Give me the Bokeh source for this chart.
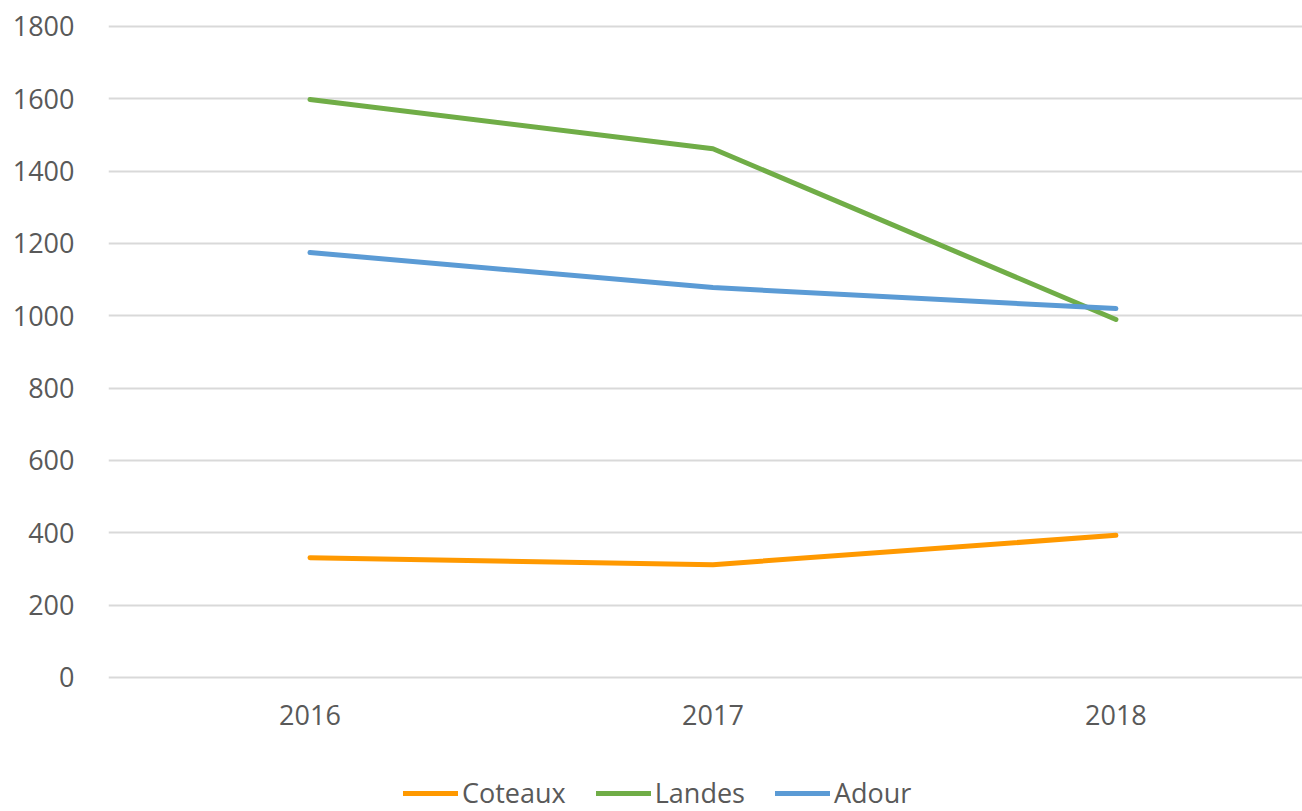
from bokeh.plotting import figure
from bokeh.models import Range1d, FixedTicker, Legend, LegendItem
from bokeh.embed import file_html
from bokeh.resources import INLINE

years = [2016, 2017, 2018]
coteaux = [331, 312, 393]
landes = [1598, 1462, 990]
adour = [1175, 1078, 1020]
series_names = ["Coteaux", "Landes", "Adour"]
series_values = [coteaux, landes, adour]
colors = ["#FF9900", "#70AD47", "#5B9BD5"]
y_ticks = [0, 200, 400, 600, 800, 1000, 1200, 1400, 1600, 1800]

FONT = "Open Sans"
TXT = "#595959"

# frame reaches the bottom of the page so that the legend can sit under the axis
p = figure(frame_width=1194, frame_height=789, output_backend="svg", toolbar_location=None,
           x_range=Range1d(2015.5, 2018.463), y_range=Range1d(-370.5, 1811),
           min_border_left=108, min_border_right=0, min_border_top=22, min_border_bottom=0)
p.outline_line_color = None

p.xaxis.ticker = FixedTicker(ticks=years)
p.xaxis.fixed_location = 0
p.yaxis.ticker = FixedTicker(ticks=y_ticks)
for ax in (p.xaxis, p.yaxis):
    ax.axis_line_color = None
    ax.major_tick_line_color = None
    ax.minor_tick_line_color = None
    ax.major_label_text_font = FONT
    ax.major_label_text_font_size = "27px"
    ax.major_label_text_color = TXT
p.xaxis.major_label_standoff = 22
p.yaxis.major_label_standoff = 28

p.xgrid.grid_line_color = None
p.ygrid.ticker = FixedTicker(ticks=y_ticks)
p.ygrid.grid_line_color = "#D9D9D9"
p.ygrid.grid_line_width = 2

items = []
for name, vals, col in zip(series_names, series_values, colors):
    r = p.line(years, vals, line_color=col, line_width=5, line_cap="round", line_join="round")
    items.append(LegendItem(label=name, renderers=[r]))

legend = Legend(items=items, orientation="horizontal", location=(295, 0))
legend.label_text_font = FONT
legend.label_text_font_size = "27px"
legend.label_text_color = TXT
legend.glyph_width = 55
legend.label_standoff = 4
legend.spacing = 30
legend.padding = 0
legend.margin = 0
legend.border_line_color = None
legend.background_fill_alpha = 0
legend.inactive_fill_alpha = 0
p.add_layout(legend, "center")

open("out.html", "w").write(file_html(p, INLINE))
